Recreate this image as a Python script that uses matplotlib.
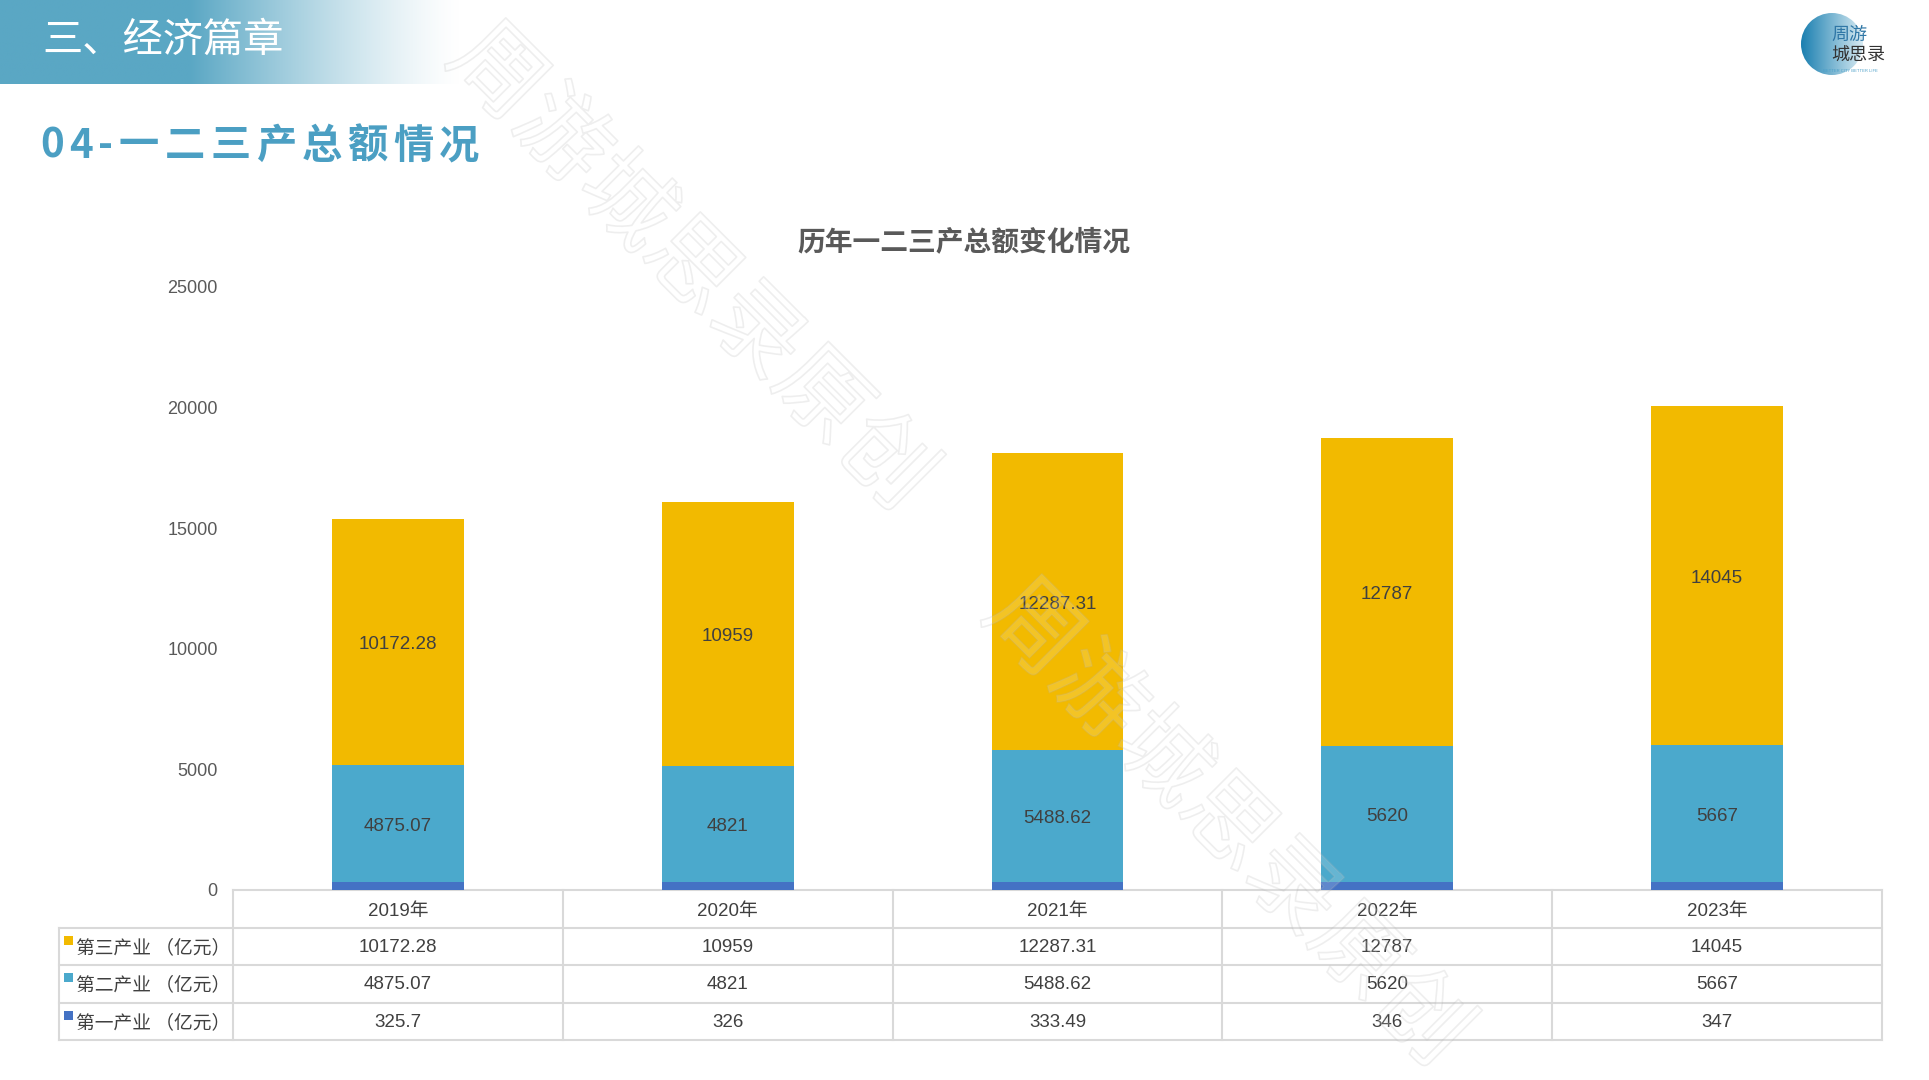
import matplotlib
matplotlib.use('Agg')
import matplotlib.pyplot as plt
import numpy as np
from matplotlib.transforms import blended_transform_factory
from matplotlib.lines import Line2D
from matplotlib.patches import Rectangle, Circle
import matplotlib.patheffects as pe

plt.rcParams['font.family'] = ['Liberation Sans', 'Noto Sans CJK SC', 'DejaVu Sans']
CJK = ['Noto Sans CJK SC', 'DejaVu Sans']

# ---------------- data ----------------
years = ['2019年', '2020年', '2021年', '2022年', '2023年']
tertiary = [10172.28, 10959, 12287.31, 12787, 14045]
secondary = [4875.07, 4821, 5488.62, 5620, 5667]
primary = [325.7, 326, 333.49, 346, 347]
row_names = ['第三产业 （亿元）', '第二产业 （亿元）', '第一产业 （亿元）']
yticks = [0, 5000, 10000, 15000, 20000, 25000]

header_text = '三、经济篇章'
subtitle_text = '04-一二三产总额情况'
chart_title = '历年一二三产总额变化情况'
watermark = '周游城思录原创'

C_TER = '#F2BA00'
C_SEC = '#4BA9CC'
C_PRI = '#4472C4'
C_TXT = '#404040'
C_GRID = '#d9d9d9'

W, H = 1929, 1080
fig = plt.figure(figsize=(W / 100, H / 100), dpi=100)


def fx(p):
    return p / W


def fy(p):
    return 1 - p / H


def fmt(v):
    s = '%.2f' % v
    return s.rstrip('0').rstrip('.')


# ---------------- header band ----------------
band_w = 460
axh = fig.add_axes([0, fy(84), fx(band_w), 84 / H])
n = 400
xs = np.linspace(0, 1, n)
solid = 190 / band_w
alpha = np.clip(1 - (xs - solid) / (1 - solid), 0, 1) ** 1.3
teal = np.array(matplotlib.colors.to_rgb('#5aa7c4'))
img = np.ones((1, n, 3))
img[0] = teal[None, :] * alpha[:, None] + (1 - alpha[:, None])
axh.imshow(img, aspect='auto', extent=[0, 1, 0, 1])
axh.set_axis_off()
fig.text(fx(42), fy(40), header_text, color='white', fontsize=29,
         va='center', ha='left', family=CJK)

# subtitle with letter spacing
renderer = fig.canvas.get_renderer()
xcur = 40
for ch in subtitle_text:
    t = fig.text(fx(xcur), fy(146), ch, color='#4b9fc3', fontsize=29,
                 fontweight='bold', va='center', ha='left', family=CJK)
    bb = t.get_window_extent(renderer)
    xcur = bb.x1 + 5.5

# ---------------- logo ----------------
axl = fig.add_axes([fx(1795), fy(85), 100 / W, 85 / H])
axl.set_xlim(1795, 1895)
axl.set_ylim(85, 0)
axl.set_axis_off()
grad = np.linspace(0, 1, 200)
c1 = np.array(matplotlib.colors.to_rgb('#1a7fb0'))
c2 = np.array(matplotlib.colors.to_rgb('#d8ebf3'))
gimg = np.ones((1, 200, 3))
gimg[0] = c1[None, :] * (1 - grad[:, None]) + c2[None, :] * grad[:, None]
circ = Circle((1832, 44), 31, transform=axl.transData, facecolor='none',
              edgecolor='none')
axl.add_patch(circ)
im = axl.imshow(gimg, aspect='auto', extent=[1801, 1863, 75, 13])
im.set_clip_path(circ)
axl.text(1831, 35, '周游', fontsize=13, color='#2f77a6', ha='left', va='center',
         family=CJK)
axl.text(1831, 56, '城思录', fontsize=13, color='#333333', ha='left', va='center',
         family=CJK)
axl.text(1850, 71, 'BETTER CITY BETTER LIFE', fontsize=3, color='#4a9fc8',
         ha='center', va='center')

# ---------------- main chart ----------------
ax = fig.add_axes([fx(233), fy(890), (1882 - 233) / W, (890 - 287) / H])
x = np.arange(len(years))
pri = np.array(primary)
sec = np.array(secondary)
ter = np.array(tertiary)
bw = 0.40
ax.bar(x, pri, width=bw, color=C_PRI, zorder=2)
ax.bar(x, sec, width=bw, bottom=pri, color=C_SEC, zorder=2)
ax.bar(x, ter, width=bw, bottom=pri + sec, color=C_TER, zorder=2)
ax.set_xlim(-0.5, len(years) - 0.5)
ax.set_ylim(0, 25000)
ax.set_yticks(yticks)
ax.set_yticklabels([str(v) for v in yticks])
ax.tick_params(axis='y', length=0, pad=11, labelsize=13, labelcolor='#595959')
ax.set_xticks([])
for s in ax.spines.values():
    s.set_visible(False)

for i in range(len(years)):
    ax.annotate(fmt(sec[i]), (x[i], pri[i] + sec[i] / 2), xytext=(0, -2),
                textcoords='offset points', ha='center', va='center',
                fontsize=13.5, color=C_TXT, zorder=3)
    ax.annotate(fmt(ter[i]), (x[i], pri[i] + sec[i] + ter[i] / 2),
                xytext=(0, -2), textcoords='offset points', ha='center',
                va='center', fontsize=13.5, color=C_TXT, zorder=3)

fig.text(fx(964), fy(242), chart_title, ha='center', va='center', fontsize=20,
         fontweight='bold', color='#595959', family=CJK)

# ---------------- data table ----------------
tr = blended_transform_factory(ax.transData, fig.transFigure)
rows_px = [890, 927.5, 965, 1002.5, 1040]
xl, xr = -0.5, len(years) - 0.5
lw = 1.5
ax.plot([xl, xr], [fy(rows_px[0])] * 2, transform=tr, color=C_GRID, lw=lw,
        clip_on=False, zorder=1)
for ypx in rows_px[1:]:
    fig.add_artist(Line2D([fx(59), fx(1882)], [fy(ypx)] * 2, color=C_GRID, lw=lw))
fig.add_artist(Line2D([fx(59)] * 2, [fy(rows_px[1]), fy(rows_px[-1])],
                      color=C_GRID, lw=lw))
for b in np.arange(len(years) + 1) - 0.5:
    ax.plot([b, b], [fy(rows_px[0]), fy(rows_px[-1])], transform=tr,
            color=C_GRID, lw=lw, clip_on=False, zorder=1)

centers = [(rows_px[k] + rows_px[k + 1]) / 2 + 1 for k in range(4)]
centers[0] += 2
for i, yr in enumerate(years):
    ax.text(x[i], fy(centers[0]), yr, transform=tr, ha='center', va='center',
            fontsize=13.5, color=C_TXT)
table_rows = [ter, sec, pri]
row_colors = [C_TER, C_SEC, C_PRI]
for r in range(3):
    yc = centers[r + 1]
    for i in range(len(years)):
        ax.text(x[i], fy(yc), fmt(table_rows[r][i]), transform=tr, ha='center',
                va='center', fontsize=13.5, color=C_TXT)
    top = rows_px[r + 1]
    fig.add_artist(Rectangle((fx(64), fy(top + 17)), 9 / W, 9 / H,
                             facecolor=row_colors[r], edgecolor='none'))
    fig.text(fx(76), fy(yc), row_names[r], ha='left', va='center',
             fontsize=13.5, color=C_TXT, family=CJK)

# ---------------- watermark ----------------
for cxp, cyp in [(690, 268), (1226, 824)]:
    fig.text(fx(cxp), fy(cyp), watermark, rotation=-45, rotation_mode='anchor',
             ha='center', va='center', fontsize=66, family=CJK,
             color=(1, 1, 1, 0.08), zorder=10,
             path_effects=[pe.withStroke(linewidth=1.2,
                                         foreground=(0.7, 0.7, 0.7, 0.22))])

fig.savefig('out.png', dpi=100)
